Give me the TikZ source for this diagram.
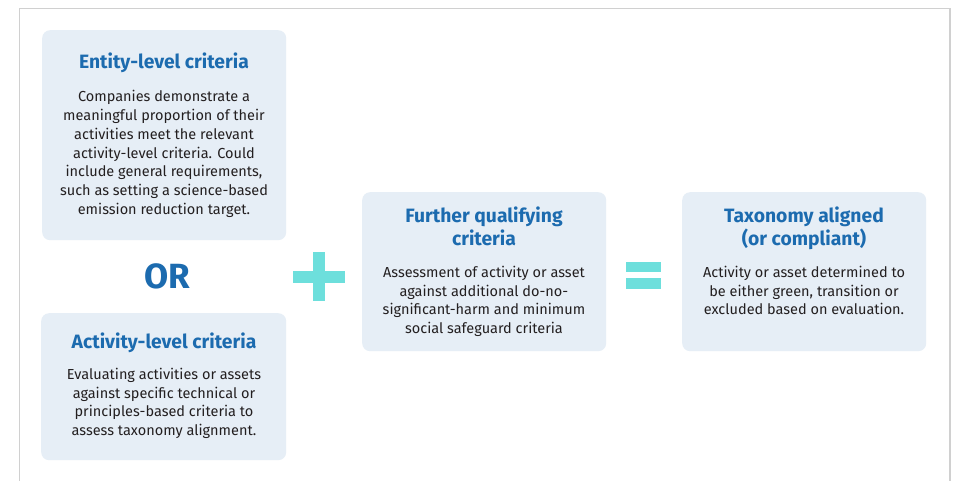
\documentclass[tikz,border=0pt]{standalone}
\usepackage{fontspec}
\setmainfont{Fira Sans}
\definecolor{boxfill}{HTML}{E6EEF6}
\definecolor{titleblue}{HTML}{1C6BAF}
\definecolor{bodytext}{HTML}{231F20}
\definecolor{teal}{HTML}{6DDFDC}
\definecolor{framegray}{HTML}{D0D0D0}
\newcommand{\topstrut}{\rule{0pt}{12pt}}
\newcommand{\ttlstrut}{\rule{0pt}{16pt}}
\tikzset{
  box/.style={fill=boxfill, rounded corners=8pt, draw=none, inner sep=0pt, anchor=north west},
  ttl/.style={font=\fontsize{19.3}{23.5}\selectfont\bfseries, text=titleblue, align=center, inner sep=0pt},
  body/.style={font=\fontsize{14.5}{18.8}\selectfont, text=bodytext, align=center, inner sep=0pt, anchor=north},
  sym/.style={fill=teal}
}
\begin{document}
\begin{tikzpicture}[x=1pt,y=-1pt]
\useasboundingbox (0,0) rectangle (955,480);
\fill[white] (0,0) rectangle (955,480);
\draw[framegray, line width=1.5pt] (19.5,481) -- (19.5,8.5) -- (950,8.5) -- (950,481);

% boxes
\node[box, minimum width=244pt, minimum height=210pt] (ent) at (42,30) {};
\node[box, minimum width=245pt, minimum height=147pt] (act) at (41,313) {};
\node[box, minimum width=244pt, minimum height=159pt] (fur) at (362,192) {};
\node[box, minimum width=244pt, minimum height=159pt] (tax) at (682,192) {};

% entity
\node[ttl, anchor=base] (entT) at (164,68) {Entity-level criteria};
\node[body] (entB) at (164,89.5) {\topstrut Companies demonstrate a\\meaningful proportion of their\\activities meet the relevant\\activity-level criteria. Could\\include general requirements,\\such as setting a science-based\\emission reduction target.};

% OR
\node[font=\fontsize{35}{35}\selectfont\bfseries, text=titleblue, anchor=base, inner sep=0pt] (or) at (167,288) {OR};

% activity
\node[ttl, anchor=base] (actT) at (164,348) {Activity-level criteria};
\node[body] (actB) at (164,367) {\topstrut Evaluating activities or assets\\against specific technical or\\principles-based criteria to\\assess taxonomy alignment.};

% plus
\fill[sym] (293,270.5) rectangle (345,282.5);
\fill[sym] (312.5,252) rectangle (325,301);

% further
\node[ttl, anchor=north] (furT) at (484,206) {\ttlstrut Further qualifying\\criteria};
\node[body] (furB) at (484,265) {\topstrut Assessment of activity or asset\\against additional do-no-\\significant-harm and minimum\\social safeguard criteria};

% equals
\fill[sym] (626,261.5) rectangle (661,272);
\fill[sym] (626,278) rectangle (661,289);

% taxonomy
\node[ttl, anchor=north] (taxT) at (804,206) {\ttlstrut Taxonomy aligned\\(or compliant)};
\node[body] (taxB) at (804,265) {\topstrut Activity or asset determined to\\be either green, transition or\\excluded based on evaluation.};
\end{tikzpicture}
\end{document}
